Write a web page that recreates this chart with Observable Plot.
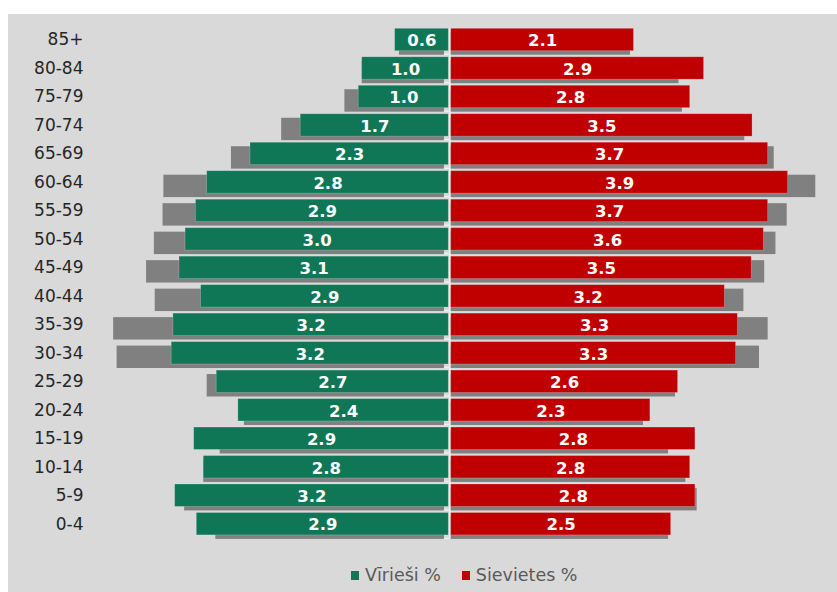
<!DOCTYPE html>
<html>
<head>
<meta charset="utf-8">
<script src="https://cdn.jsdelivr.net/npm/d3@7"></script>
<script src="https://cdn.jsdelivr.net/npm/@observablehq/plot@0.6"></script>
<style>
html, body { margin: 0; padding: 0; background: #ffffff; }
#wrap { position: relative; width: 837px; height: 592px; overflow: hidden; }
#panel { position: absolute; left: 8px; top: 14px; right: 0; bottom: 0; background: #d9d9d9; }
#chart { position: absolute; left: 0; top: 0; width: 837px; }
div.lg-swatches > span.lg-swatch { margin-right: 21px; }
div.lg-swatches > span.lg-swatch > svg { margin-right: 6px; }
</style>
</head>
<body>
<div id="wrap"><div id="panel"></div><div id="chart"></div></div>
<script>
// Age groups, top to bottom
const ages = ["85+","80-84","75-79","70-74","65-69","60-64","55-59","50-54","45-49","40-44","35-39","30-34","25-29","20-24","15-19","10-14","5-9","0-4"];
// Vīrieši % (current)
const male = [0.62,1.00,1.04,1.71,2.29,2.79,2.92,3.04,3.11,2.86,3.18,3.20,2.68,2.43,2.94,2.83,3.16,2.91];
// Sievietes % (current)
const female = [2.11,2.92,2.76,3.48,3.66,3.89,3.66,3.61,3.47,3.16,3.31,3.29,2.62,2.30,2.82,2.76,2.82,2.54];
// Comparison (grey) bars
const maleGrey = [0.57,1.00,1.20,1.93,2.51,3.29,3.30,3.40,3.49,3.39,3.87,3.83,2.79,2.36,2.64,2.83,3.05,2.69];
const femaleGrey = [2.07,2.63,2.67,3.39,3.73,4.21,3.88,3.75,3.62,3.38,3.66,3.56,2.59,2.22,2.51,2.71,2.84,2.51];
const seriesNames = ["Vīrieši %", "Sievietes %"];

const green = "#0f7656";
const red = "#c00000";
const grey = "#808080";
const axisLight = "#eeeeee";

const rows = ages.map((a, i) => ({age: a, m: male[i], f: female[i], mg: maleGrey[i], fg: femaleGrey[i]}));

const K = 86.6, Z = 449.5;
const labelFont = "DejaVu Sans, sans-serif";

const plot = Plot.plot({
  width: 837,
  height: 555,
  marginTop: 28,
  marginBottom: 17,
  marginLeft: 86,
  marginRight: 0,
  style: {background: "transparent", fontFamily: labelFont, overflow: "visible"},
  x: {domain: [-4, 4.3], range: [Z - 4 * K, Z + 4.3 * K], axis: null},
  y: {domain: ages, range: [25.26, 537.94], paddingInner: 0.213, paddingOuter: 0.1065, round: false, label: null},
  marks: [
    Plot.ruleX([0], {stroke: axisLight, strokeWidth: 2}),
    Plot.barX(rows, {y: "age", x1: d => -d.mg, x2: 0, dx: -1.2, dy: 4, insetRight: 4.3, fill: grey}),
    Plot.barX(rows, {y: "age", x1: 0, x2: "fg", dx: 1.2, dy: 4, fill: grey}),
    Plot.ruleY(ages, {y: d => d, x1: -0.065, x2: 0, dy: 14.24, stroke: axisLight, strokeWidth: 1.5}),
    Plot.barX(rows, {y: "age", x1: d => -d.m, x2: 0, dx: -1.2, fill: green, stroke: "#ffffff", strokeOpacity: 0.25, strokeWidth: 0.8}),
    Plot.barX(rows, {y: "age", x1: 0, x2: "f", dx: 1.2, fill: red, stroke: "#ffffff", strokeOpacity: 0.25, strokeWidth: 0.8}),
    Plot.text(rows, {y: "age", x: d => -d.m / 2, dx: -1.2, dy: 1, text: d => d.m.toFixed(1), fill: "white", fontWeight: "bold", fontSize: 16.5, fontFamily: labelFont}),
    Plot.text(rows, {y: "age", x: d => d.f / 2, dx: 1.2, dy: 1, text: d => d.f.toFixed(1), fill: "white", fontWeight: "bold", fontSize: 16.5, fontFamily: labelFont}),
    Plot.axisY({tickSize: 0, tickPadding: 3, fontSize: 17, fill: "#262626", fontFamily: labelFont})
  ]
});

const legend = Plot.legend({
  color: {type: "ordinal", domain: seriesNames, range: [green, red]},
  swatchWidth: 8,
  swatchHeight: 9,
  className: "lg",
  style: {
    fontFamily: labelFont,
    fontSize: "17.5px",
    color: "#595959",
    margin: "0",
    paddingLeft: "351px",
    paddingTop: "10px",
    minHeight: "0",
    background: "transparent"
  }
});

const chart = document.getElementById("chart");
chart.appendChild(plot);
chart.appendChild(legend);
</script>
</body>
</html>
